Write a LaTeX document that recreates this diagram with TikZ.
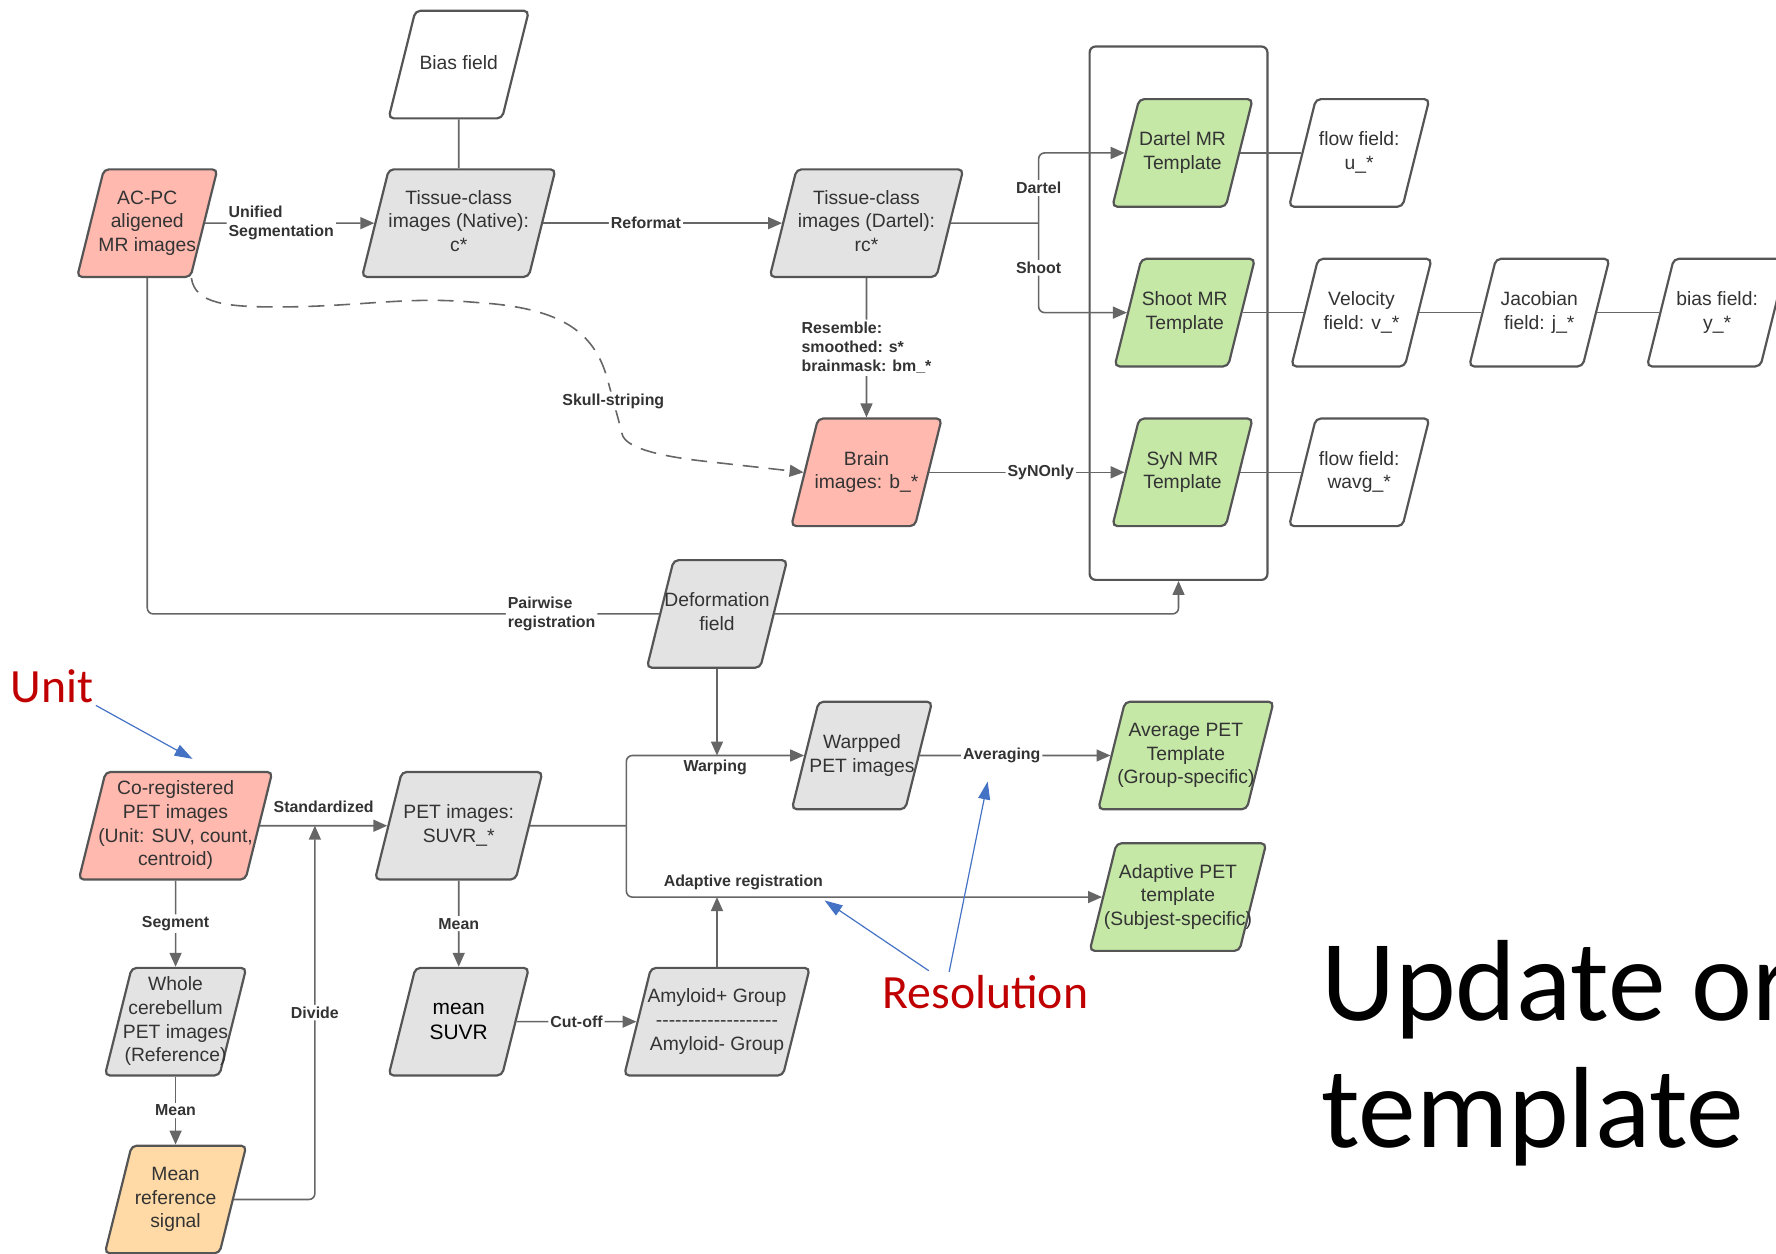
\documentclass[tikz,border=0pt]{standalone}
\usepackage{fontspec}
\usetikzlibrary{shapes.geometric,arrows.meta}
\newfontfamily\boxfont{Liberation Sans}[Ligatures=TeXOff]
\newfontfamily\slidefont{Carlito}
\definecolor{pinkfill}{RGB}{255,185,175}
\definecolor{greyfill}{RGB}{227,227,227}
\definecolor{greenfill}{RGB}{197,232,167}
\definecolor{tanfill}{RGB}{255,218,166}
\definecolor{boxline}{RGB}{85,85,85}
\definecolor{wireline}{RGB}{102,102,102}
\definecolor{txtgrey}{RGB}{51,51,51}
\definecolor{notered}{RGB}{192,0,0}
\definecolor{noteblue}{RGB}{68,114,196}
% fixed-height text block, so that every box gets the same slant
\newcommand\slab[2]{\vbox to 1.9cm{\vss\hbox to #1{\hss\begin{tabular}{@{}c@{}}#2\end{tabular}\hss}\vss}}
\tikzset{
  databox/.style={trapezium, trapezium left angle=76, trapezium right angle=104,
    draw=boxline, line width=1.1pt, rounded corners=2.5pt, inner sep=0pt,
    text=txtgrey, font=\boxfont\fontsize{9.7}{11.9}\selectfont},
  pinkbox/.style={databox, fill=pinkfill},
  greybox/.style={databox, fill=greyfill},
  greenbox/.style={databox, fill=greenfill},
  tanbox/.style={databox, fill=tanfill},
  plainbox/.style={databox, fill=white},
  wire/.style={draw=wireline, line width=0.8pt, rounded corners=3pt},
  arr/.style={wire, -{Triangle[width=6pt,length=7pt]}},
  lbl/.style={font=\boxfont\bfseries\fontsize{8}{9.7}\selectfont, text=txtgrey, fill=white, inner sep=1pt},
  note/.style={font=\slidefont\fontsize{24}{28}\selectfont, text=notered, inner sep=1pt},
  notearr/.style={draw=noteblue, line width=0.6pt, -{Triangle[width=6pt,length=9pt]}},
}
\begin{document}
\begin{tikzpicture}[x=0.02cm, y=-0.02cm]
    %\draw[help lines] (0,0) grid (1568,1107);
    \useasboundingbox (0,0) rectangle (1568,1107);

    \node[plainbox] (biasfld) at (405,57) {\slab{1.53cm}{Bias field}};
    \node[pinkbox] (acpc) at (130,197) {\slab{1.53cm}{AC-PC\\aligened\\MR images}};
    \node[greybox] (native) at (405,197) {\slab{2.47cm}{Tissue-class\\images (Native):\\c*}};
    \node[greybox] (dartimg) at (765,197) {\slab{2.47cm}{Tissue-class\\images (Dartel):\\rc*}};
    \node[draw=boxline, line width=1.1pt, rounded corners=3pt, minimum width=3.14cm, minimum height=9.42cm] (mrgroup) at (1040.5,276.5) {};
    \node[greenbox] (dartmr) at (1044,135) {\slab{1.53cm}{Dartel MR\\Template}};
    \node[greenbox] (shootmr) at (1046,276) {\slab{1.53cm}{Shoot MR\\Template}};
    \node[greenbox] (synmr) at (1044,417) {\slab{1.53cm}{SyN MR\\Template}};
    \node[plainbox] (flowu) at (1200,135) {\slab{1.53cm}{flow field:\\u\_*}};
    \node[plainbox] (velo) at (1202,276) {\slab{1.53cm}{Velocity\\field: v\_*}};
    \node[plainbox] (jacob) at (1359,276) {\slab{1.53cm}{Jacobian\\field: j\_*}};
    \node[plainbox] (biasy) at (1516,276) {\slab{1.53cm}{bias field:\\y\_*}};
    \node[plainbox] (floww) at (1200,417) {\slab{1.53cm}{flow field:\\wavg\_*}};
    \node[pinkbox] (brain) at (765,417) {\slab{1.71cm}{Brain\\images: b\_*}};
    \node[greybox] (deform) at (633,542) {\slab{1.53cm}{Deformation\\field}};
    \node[pinkbox] (coreg) at (155,729) {\slab{2.47cm}{Co-registered\\PET images\\(Unit: SUV, count,\\centroid)}};
    \node[greybox] (suvr) at (405,729) {\slab{2.01cm}{PET images:\\SUVR\_*}};
    \node[greybox] (warped) at (761,667) {\slab{1.53cm}{Warpped\\PET images}};
    \node[greenbox] (avgpet) at (1047,667) {\slab{2.15cm}{Average PET\\Template\\(Group-specific)}};
    \node[greenbox] (adapet) at (1040,792) {\slab{2.17cm}{Adaptive PET\\template\\(Subjest-specific)}};
    \node[greybox] (cereb) at (155,902) {\slab{1.55cm}{Whole\\cerebellum\\PET images\\(Reference)}};
    \node[greybox, text=black, font=\boxfont\fontsize{10.5}{12.5}\selectfont] (meansuvr) at (405,902) {\slab{1.53cm}{mean\\SUVR}};
    \node[greybox] (amyloid) at (633,902) {\slab{2.33cm}{Amyloid+ Group\\-------------------\\Amyloid- Group}};
    \node[tanbox] (meanref) at (155,1059) {\slab{1.55cm}{Mean\\reference\\signal}};

    \coordinate (dsplit) at (917,197);
    \coordinate (warpin) at (633,667);
    \coordinate (petfork) at (553,729);
    \coordinate (adaptin) at (633,792);
    \coordinate (divjoin) at (278,729);

    \draw[wire] (biasfld.south) -- (native.north);
    \draw[arr] (acpc.east) -- node[lbl, align=left, pos=0.45]{Unified\\Segmentation} (native.west);
    \draw[arr] (native.east) -- node[lbl, pos=0.43]{Reformat} (dartimg.west);
    \draw[wire] (dartimg.east) -- (dsplit);
    \draw[arr] (dsplit) |- node[lbl, pos=0.25]{Dartel} (dartmr.west);
    \draw[arr] (dsplit) |- node[lbl, pos=0.25]{Shoot} (shootmr.west);
    \draw[arr] (dartimg.south) -- node[lbl, align=left]{Resemble:\\smoothed: s*\\brainmask: bm\_*} (brain.north);
    \draw[arr] (brain.east) -- node[lbl, pos=0.57]{SyNOnly} (synmr.west);
    \draw[wire] (dartmr.east) -- (flowu.west);
    \draw[wire] (shootmr.east) -- (velo.west);
    \draw[wire] (velo.east) -- (jacob.west);
    \draw[wire] (jacob.east) -- (biasy.west);
    \draw[wire] (synmr.east) -- (floww.west);
    \draw[arr, dash pattern=on 8pt off 5pt] (acpc.bottom right corner)
        .. controls (172,268) and (200,271) .. (250,271)
        .. controls (320,270) and (360,262) .. (420,267)
        .. controls (490,272) and (520,290) .. (535,330)
        -- node[lbl]{Skull-striping} (548,378)
        .. controls (552,395) and (580,402) .. (620,407) -- (brain.west);
    \draw[wire] (acpc.south) |- node[lbl, align=left, pos=0.895]{Pairwise\\registration} (deform.west);
    \draw[arr] (deform.east) -| (mrgroup.south);
    \draw[arr] (deform.south) -- (warpin);
    \draw[arr] (coreg.east) -- node[lbl, above=5pt]{Standardized} (suvr.west);
    \draw[wire] (suvr.east) -- (petfork);
    \draw[arr] (petfork) |- node[lbl, pos=0.75, below=1pt]{Warping} (warped.west);
    \draw[arr] (petfork) |- node[lbl, pos=0.623, above=2pt]{Adaptive registration} (adapet.west);
    \draw[arr] (warped.east) -- node[lbl, pos=0.43]{Averaging} (avgpet.west);
    \draw[arr] (amyloid.north) -- (adaptin);
    \draw[arr] (coreg.south) -- node[lbl]{Segment} (cereb.north);
    \draw[arr] (cereb.south) -- node[lbl]{Mean} (meanref.north);
    \draw[arr] (suvr.south) -- node[lbl]{Mean} (meansuvr.north);
    \draw[arr] (meansuvr.east) -- node[lbl]{Cut-off} (amyloid.west);
    \draw[arr] (meanref.east) -| node[lbl, pos=0.75]{Divide} (divjoin);

    \node[note] (unit) at (46,606) {Unit};
    \node[note] (res) at (870,876) {Resolution};
    \coordinate (unitend) at (170,670);
    \coordinate (resa) at (838,858);
    \coordinate (resb) at (820,857);
    \coordinate (resup) at (872,690);
    \coordinate (resleft) at (728,795);
    \draw[notearr] (unit.south east) -- (unitend);
    \draw[notearr] (resa) -- (resup);
    \draw[notearr] (resb) -- (resleft);

    \node[font=\slidefont\fontsize{58}{64}\selectfont, align=left, anchor=base west, inner sep=0pt] (update) at (1166,1013) {Update or\\template};
\end{tikzpicture}
\end{document}
